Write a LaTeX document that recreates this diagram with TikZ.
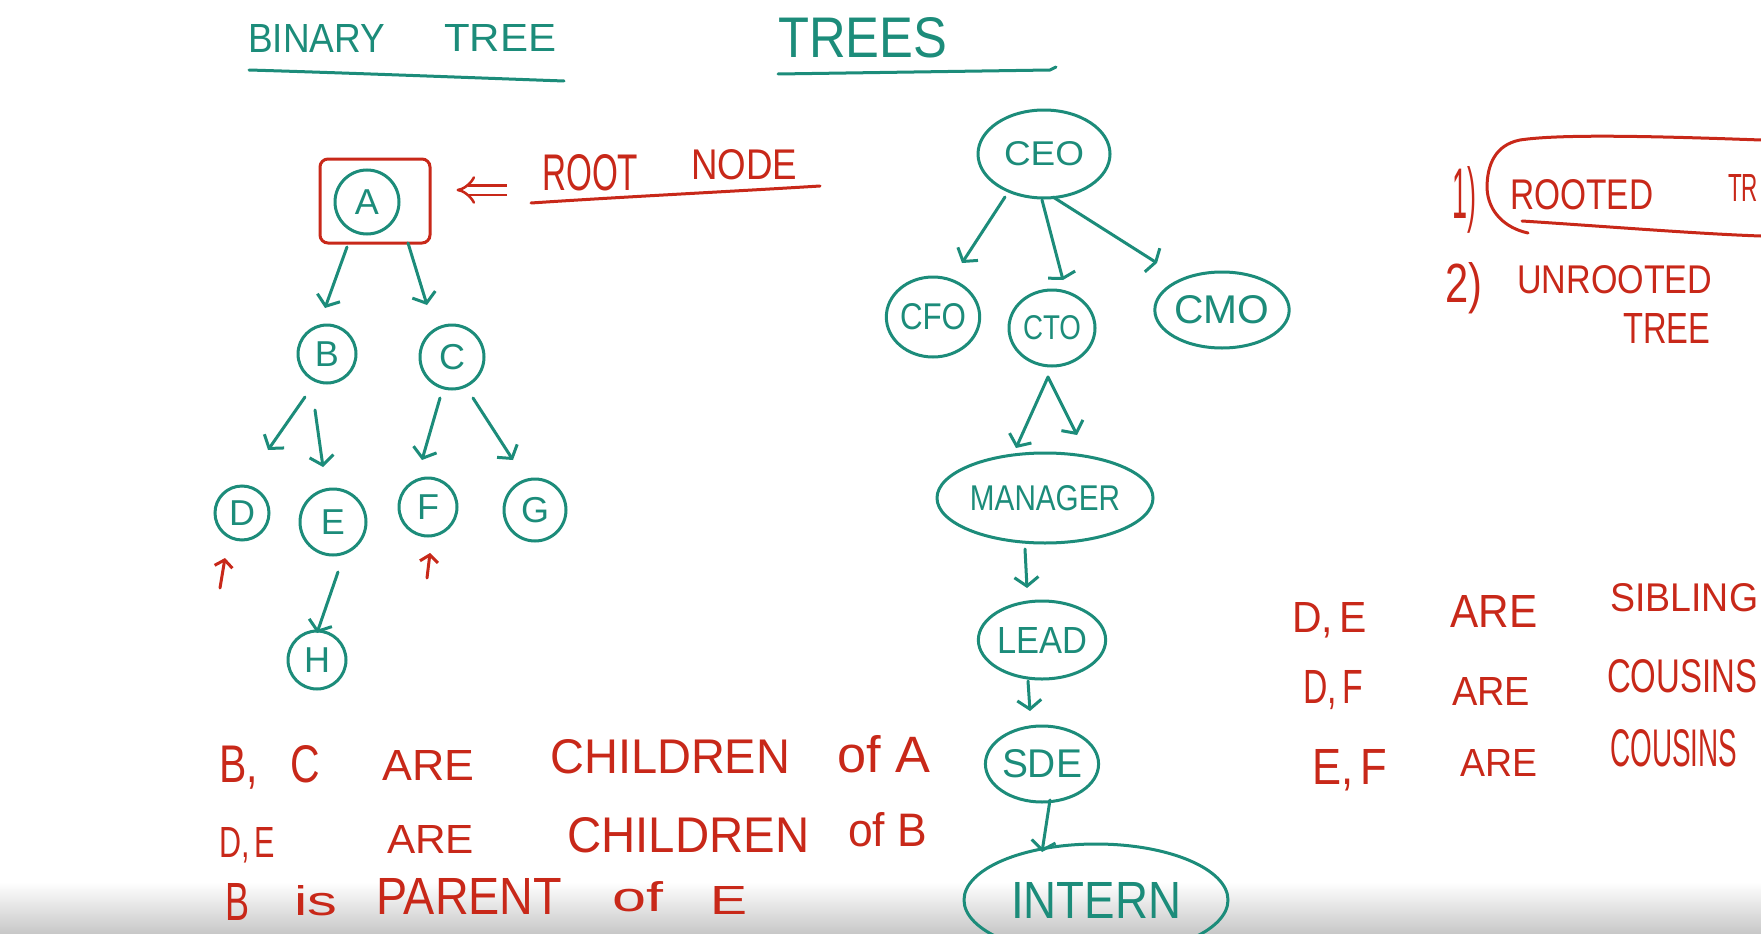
\documentclass[tikz,border=0pt]{standalone}
\usepackage{fontspec}
\setmainfont{Liberation Sans}
\usepackage{graphicx}
\usetikzlibrary{arrows.meta,shapes.geometric}
\definecolor{pen}{RGB}{28,140,122}
\definecolor{rpen}{RGB}{200,40,25}
\newcommand{\hw}[7]{\node[#1,anchor=west,inner sep=0pt] (#2) at (#3,#4) {\resizebox{#5pt}{#6pt}{#7}};}
\begin{document}
\begin{tikzpicture}[x=1pt,y=-1pt,
  ttxt/.style={text=pen},
  rtxt/.style={text=rpen},
  tnode/.style={draw=pen,line width=3pt,inner sep=0pt,text=pen},
  circ/.style={tnode,circle,font=\fontsize{36}{36}\selectfont},
  ell/.style={tnode,ellipse},
  tarr/.style={draw=pen,line width=3pt,line cap=round,-{Straight Barb[length=9pt,width=24pt]}},
  flatarr/.style={draw=pen,line width=3pt,line cap=round,-{Straight Barb[length=4pt,width=28pt]}},
  rarr/.style={draw=rpen,line width=3pt,line cap=round,-{Straight Barb[length=7pt,width=18pt]}},
  tline/.style={draw=pen,line width=3pt,line cap=round},
  rline/.style={draw=rpen,line width=3pt,line cap=round}]
\useasboundingbox (0,0) rectangle (1761,934);
\clip (0,0) rectangle (1761,934);
\fill[white] (0,0) rectangle (1761,934);
\shade[top color=white,bottom color=black!22] (0,882) rectangle (1761,934);

% titles
\hw{ttxt}{binary}{248}{38}{137}{28}{BINARY}
\hw{ttxt}{treeA}{444}{38}{112}{27}{TREE}
\draw[tline] (249,70) .. controls (350,73) and (480,78) .. (564,81);
\hw{ttxt}{trees}{778}{38}{169}{40}{TREES}
\draw[tline] (778,74) -- (1050,70) -- (1056,67);

% binary tree
\node[draw=rpen,line width=3pt,rounded corners=8pt,minimum width=110pt,minimum height=84pt] (rootbox) at (375,201) {};
\node[circ,minimum size=64pt] (A) at (367,202) {A};
\node[circ,minimum size=58pt] (B) at (327,354) {B};
\node[circ,minimum size=64pt] (C) at (452,357) {C};
\node[circ,minimum size=54pt] (D) at (242,513) {D};
\node[circ,minimum size=66pt] (E) at (333,522) {E};
\node[circ,minimum size=58pt] (F) at (428,507) {F};
\node[circ,minimum size=62pt] (G) at (535,510) {G};
\node[circ,minimum size=58pt] (H) at (317,660) {H};

\draw[tarr] ([shift={(-20,45)}]A.center) -- ([shift={(-2,-46)}]B.center);
\draw[tarr] ([shift={(41,41)}]A.center) -- ([shift={(-25,-52)}]C.center);
\draw[tarr] ([shift={(-22,43)}]B.center) -- ([shift={(26,-63)}]D.center);
\draw[tarr] ([shift={(-12,56)}]B.center) -- ([shift={(-10,-55)}]E.center);
\draw[tarr] ([shift={(-12,41)}]C.center) -- ([shift={(-6,-47)}]F.center);
\draw[tarr] ([shift={(21,41)}]C.center) -- ([shift={(-22,-50)}]G.center);
\draw[tarr] ([shift={(5,50)}]E.center) -- ([shift={(0,-27)}]H.center);

\coordinate (dp) at (220,588);
\coordinate (fp) at (427,578);
\draw[rarr] (dp) -- ([shift={(-17,45)}]D.center);
\draw[rarr] (fp) -- ([shift={(2,46)}]F.center);

% root node label
\coordinate (dbl) at (507,190);
\draw[draw=rpen,line width=2.5pt,double=white,double distance=7pt,-{Implies},shorten >=25pt] (dbl) -- (rootbox.east |- dbl);
\hw{rtxt}{root}{542}{173}{96}{36}{ROOT}
\hw{rtxt}{nodew}{691}{165}{106}{30}{NODE}
\draw[rline] (531,203) .. controls (620,197) and (740,191) .. (820,186);

% statements bottom left
\hw{rtxt}{l1a}{219}{767}{101}{37}{B,\hspace{0.8em}C}
\hw{rtxt}{l1b}{382}{765}{92}{30}{ARE}
\hw{rtxt}{l1c}{550}{757}{240}{34}{CHILDREN}
\hw{rtxt}{l1d}{837}{754}{93}{37}{of A}
\hw{rtxt}{l2a}{219}{845}{56}{30}{D,\,E}
\hw{rtxt}{l2b}{387}{839}{87}{28}{ARE}
\hw{rtxt}{l2c}{567}{835}{242}{35}{CHILDREN}
\hw{rtxt}{l2d}{848}{830}{79}{34}{of B}
\hw{rtxt}{l3a}{225}{902}{24}{37}{B}
\hw{rtxt}{l3b}{294}{901}{43}{30}{is}
\hw{rtxt}{l3c}{376}{896}{186}{36}{PARENT}
\hw{rtxt}{l3d}{612}{897}{51}{30}{of}
\hw{rtxt}{l3e}{710}{900}{37}{28}{E}

% org tree
\node[ell,minimum width=132pt,minimum height=88pt] (CEO) at (1044,154) {\resizebox{80pt}{24pt}{CEO}};
\node[ell,minimum width=90pt,minimum height=80pt] (CFO) at (933,317) {\resizebox{66pt}{26pt}{CFO}};
\node[ell,minimum width=86pt,minimum height=76pt] (CTO) at (1052,328) {\resizebox{58pt}{24pt}{CTO}};
\node[ell,minimum width=124pt,minimum height=76pt] (CMO) at (1222,310) {\resizebox{95pt}{28pt}{CMO}};
\node[ell,minimum width=216pt,minimum height=90pt] (MGR) at (1045,498) {\resizebox{150pt}{25pt}{MANAGER}};
\node[ell,minimum width=112pt,minimum height=78pt] (LEAD) at (1042,640) {\resizebox{90pt}{26pt}{LEAD}};
\node[ell,minimum width=100pt,minimum height=76pt] (SDE) at (1042,764) {\resizebox{80pt}{28pt}{SDE}};
\node[ell,minimum width=264pt,minimum height=112pt] (INTERN) at (1096,900) {\resizebox{170pt}{36pt}{INTERN}};

\draw[tarr] ([shift={(-39,43)}]CEO.center) -- ([shift={(29,-54)}]CFO.center);
\draw[flatarr] ([shift={(-2,46)}]CEO.center) -- ([shift={(11,-48)}]CTO.center);
\draw[flatarr] ([shift={(9,43)}]CEO.center) -- ([shift={(-65,-47)}]CMO.center);
\draw[tarr] ([shift={(-4,49)}]CTO.center) -- ([shift={(-29,-50)}]MGR.center);
\draw[tarr] ([shift={(-4,49)}]CTO.center) -- ([shift={(32,-63)}]MGR.center);
\draw[tarr] ([shift={(-20,51)}]MGR.center) -- ([shift={(-15,-52)}]LEAD.center);
\draw[tarr] ([shift={(-14,41)}]LEAD.center) -- ([shift={(-12,-53)}]SDE.center);
\draw[tarr] ([shift={(8,36)}]SDE.center) -- ([shift={(-54,-48)}]INTERN.center);

% right notes
\hw{rtxt}{n1}{1452}{200}{24}{52}{1)}
\hw{rtxt}{rooted}{1510}{195}{143}{30}{ROOTED}
\hw{rtxt}{treeB}{1728}{188}{30}{27}{TR}
\draw[rline] (1761,140) .. controls (1650,136) and (1560,134) .. (1520,140) .. controls (1495,145) and (1487,165) .. (1487,188) .. controls (1488,212) and (1505,228) .. (1528,233);
\draw[rline] (1522,221) .. controls (1600,226) and (1700,234) .. (1761,236);
\hw{rtxt}{n2}{1445}{288}{37}{40}{2)}
\hw{rtxt}{unrooted}{1517}{280}{195}{28}{UNROOTED}
\hw{rtxt}{treeC}{1623}{328}{87}{30}{TREE}

\hw{rtxt}{s1a}{1292}{620}{75}{30}{D,\,E}
\hw{rtxt}{s1b}{1450}{611}{87}{32}{ARE}
\hw{rtxt}{s1c}{1610}{598}{148}{28}{SIBLING}
\hw{rtxt}{s2a}{1303}{690}{60}{33}{D,\,F}
\hw{rtxt}{s2b}{1452}{691}{78}{28}{ARE}
\hw{rtxt}{s2c}{1607}{676}{150}{33}{COUSINS}
\hw{rtxt}{s3a}{1312}{770}{75}{35}{E,\,F}
\hw{rtxt}{s3b}{1460}{763}{77}{27}{ARE}
\hw{rtxt}{s3c}{1610}{748}{127}{37}{COUSINS}
\end{tikzpicture}
\end{document}
